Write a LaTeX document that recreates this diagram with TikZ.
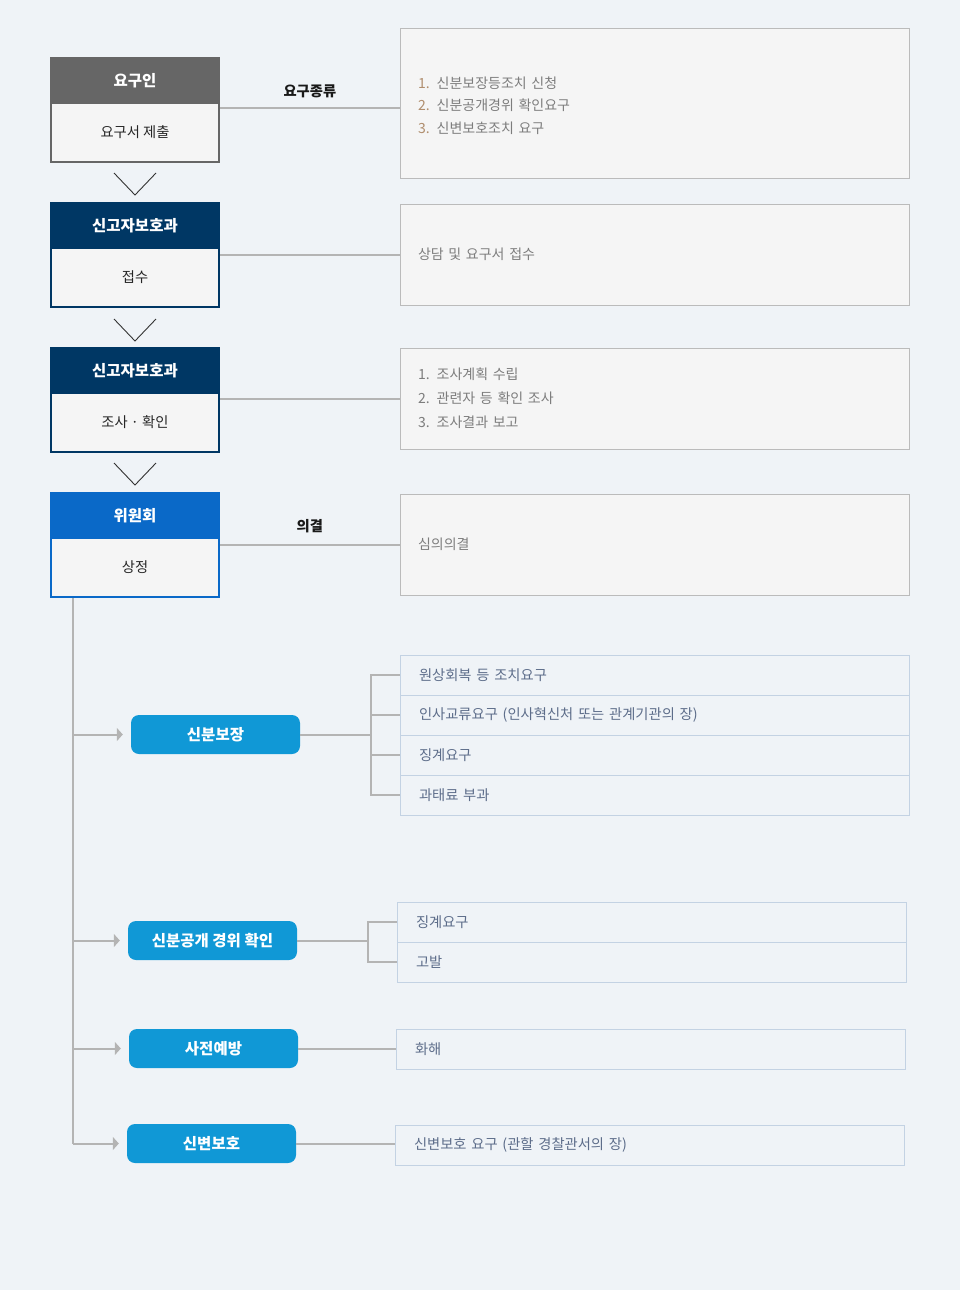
\documentclass[tikz,border=0pt]{standalone}
\usepackage{fontspec}
\setmainfont{Noto Sans CJK KR}
\usetikzlibrary{positioning,arrows.meta}
\definecolor{fundo}{RGB}{239,243,247}
\definecolor{cinza}{RGB}{102,102,102}
\definecolor{marinho}{RGB}{0,55,100}
\definecolor{azul}{RGB}{10,105,200}
\definecolor{celeste}{RGB}{16,152,214}
\definecolor{corpo}{RGB}{245,245,245}
\definecolor{borda}{RGB}{187,187,187}
\definecolor{linha}{RGB}{180,180,180}
\definecolor{lista}{RGB}{195,210,227}
\definecolor{textolista}{RGB}{93,109,138}
\definecolor{textocaixa}{RGB}{125,125,125}
\definecolor{numero}{RGB}{176,142,110}

\tikzstyle{line} = [draw=linha, line width=2pt]
\tikzstyle{arrow} = [draw=linha, line width=2pt, -{Triangle[length=6pt,width=13pt]}, shorten >=8pt]
\tikzstyle{chevron} = [draw=black!80, line width=0.9pt]
\tikzstyle{head} = [rectangle, line width=2pt, text=white, font=\bfseries\fontsize{15.5}{17}\selectfont, minimum width=168pt, minimum height=45pt, inner sep=0pt, node distance=0mm]
\tikzstyle{body} = [rectangle, line width=2pt, fill=corpo, text=black!85, font=\fontsize{14.3}{16}\selectfont, minimum width=168pt, minimum height=59pt, inner sep=0pt, node distance=0mm]
\tikzstyle{info} = [draw=borda, rectangle, fill=corpo, text=textocaixa, text width=473pt, inner xsep=18pt, align=left, font=\fontsize{14}{22.5}\selectfont, minimum height=101pt, node distance=0mm]
\tikzstyle{pill} = [rectangle, rounded corners=8pt, fill=celeste, text=white, font=\bfseries\fontsize{15.5}{17}\selectfont, minimum width=169pt, minimum height=39pt, inner sep=0pt, node distance=0mm]
\tikzstyle{row} = [draw=lista, rectangle, text=textolista, text width=471pt, inner xsep=19pt, inner ysep=0pt, align=left, font=\fontsize{14.3}{16}\selectfont, minimum height=40pt, node distance=0mm]
\tikzstyle{rotulo} = [text=black!90, font=\bfseries\fontsize{14.3}{16}\selectfont]

\begin{document}
\begin{tikzpicture}[x=1pt, y=1pt]
\fill [fundo] (-135,80.5) rectangle (825,-1209.5);
\useasboundingbox (-135,80.5) rectangle (825,-1209.5);
% etapas
\node [head, fill=cinza, draw=cinza] (h1) {요구인};
\node [body, draw=cinza, below of=h1, yshift=-52] (b1) {요구서 제출};
\node [head, fill=marinho, draw=marinho, below of=h1, yshift=-145] (h2) {신고자보호과};
\node [body, draw=marinho, below of=h2, yshift=-52] (b2) {접수};
\node [head, fill=marinho, draw=marinho, below of=h2, yshift=-145] (h3) {신고자보호과};
\node [body, draw=marinho, below of=h3, yshift=-52] (b3) {조사 · 확인};
\node [head, fill=azul, draw=azul, below of=h3, yshift=-145] (h4) {위원회};
\node [body, draw=azul, below of=h4, yshift=-52] (b4) {상정};
% caixas da direita
\node [info, minimum height=150pt, right of=h1, xshift=519.5, yshift=-22.5] (rb1) {\mbox{}\\[-6pt]{\color{numero}1.} 신분보장등조치 신청\\{\color{numero}2.} 신분공개경위 확인요구\\{\color{numero}3.} 신변보호조치 요구};
\node [info, right of=h2, xshift=519.5, yshift=-29] (rb2) {상담 및 요구서 접수};
\node [info, font=\fontsize{14}{24}\selectfont, right of=h3, xshift=519.5, yshift=-28] (rb3) {1. 조사계획 수립\\2. 관련자 등 확인 조사\\3. 조사결과 보고};
\node [info, right of=h4, xshift=519.5, yshift=-29] (rb4) {심의의결};
% resultados
\node [pill, right of=b4, xshift=80.5, yshift=-167] (p1) {신분보장};
\node [pill, below of=p1, xshift=-3, yshift=-206] (p2) {신분공개 경위 확인};
\node [pill, below of=p2, xshift=1, yshift=-108] (p3) {사전예방};
\node [pill, below of=p3, xshift=-2, yshift=-95] (p4) {신변보호};
% listas
\node [row, right of=p1, xshift=439, yshift=59.5] (l11) {원상회복 등 조치요구};
\node [row, below of=l11, yshift=-40] (l12) {인사교류요구 (인사혁신처 또는 관계기관의 장)};
\node [row, below of=l12, yshift=-40] (l13) {징계요구};
\node [row, below of=l13, yshift=-40] (l14) {과태료 부과};
\node [row, right of=p2, xshift=439, yshift=18.5] (l21) {징계요구};
\node [row, below of=l21, yshift=-40] (l22) {고발};
\node [row, right of=p3, xshift=437, yshift=-0.5] (l31) {화해};
\node [row, right of=p4, xshift=438, yshift=-1.5] (l41) {신변보호 요구 (관할 경찰관서의 장)};
% setas entre etapas
\draw [chevron] ([shift={(-21,-10)}]b1.south) -- ([yshift=-32]b1.south) -- ([shift={(21,-10)}]b1.south);
\draw [chevron] ([shift={(-21,-11)}]b2.south) -- ([yshift=-33]b2.south) -- ([shift={(21,-11)}]b2.south);
\draw [chevron] ([shift={(-21,-10)}]b3.south) -- ([yshift=-32]b3.south) -- ([shift={(21,-10)}]b3.south);
% ligacoes etapa-caixa
\path [line] ([yshift=-5]rb1.west -| b1.east) -- node [rotulo, yshift=17] {요구종류} ([yshift=-5]rb1.west);
\path [line] (rb2.west -| b2.east) -- (rb2.west);
\path [line] (rb3.west -| b3.east) -- (rb3.west);
\path [line] (rb4.west -| b4.east) -- node [rotulo, yshift=18] {의결} (rb4.west);
% tronco
\coordinate (trunk) at ([xshift=23]b4.south west);
\path [line] (trunk) -- (trunk |- p4.west);
\path [arrow] (trunk |- p1.west) -- (p1.west);
\path [arrow] (trunk |- p2.west) -- (p2.west);
\path [arrow] (trunk |- p3.west) -- (p3.west);
\path [arrow] (trunk |- p4.west) -- (p4.west);
% chaves
\path (p1.east -| l11.west) ++(-29,0) coordinate (br1);
\path (p2.east -| l21.west) ++(-29,0) coordinate (br2);
\path [line] (p1.east) -- (br1);
\path [line] (br1) |- (l11.west);
\path [line] (br1) |- (l12.west);
\path [line] (br1) |- (l13.west);
\path [line] (br1) |- (l14.west);
\path [line] (p2.east) -- (br2);
\path [line] (br2) |- (l21.west);
\path [line] (br2) |- (l22.west);
\path [line] (p3.east) -- (p3.east -| l31.west);
\path [line] (p4.east) -- (p4.east -| l41.west);
\end{tikzpicture}
\end{document}
